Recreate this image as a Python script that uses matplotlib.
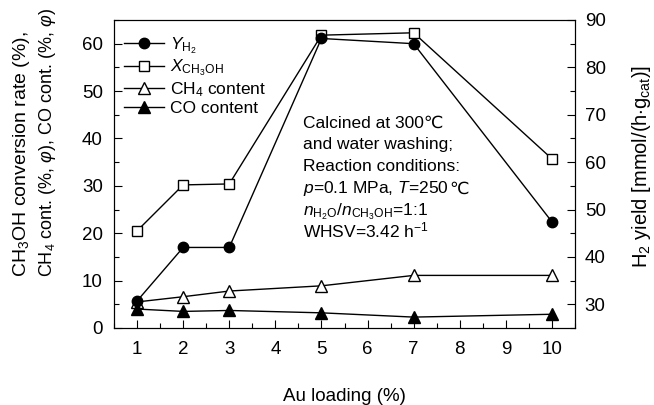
import matplotlib
matplotlib.use("Agg")
import matplotlib.pyplot as plt
from matplotlib.ticker import MultipleLocator

plt.rcParams['font.family'] = ['Liberation Sans', 'DejaVu Sans']
plt.rcParams['mathtext.fontset'] = 'custom'
plt.rcParams['mathtext.rm'] = 'Liberation Sans'
plt.rcParams['mathtext.it'] = 'Liberation Sans:italic'
plt.rcParams['mathtext.bf'] = 'Liberation Sans:bold'

au = [1, 2, 3, 5, 7, 10]
h2_yield = [30.7, 42.0, 42.0, 86.1, 85.0, 47.4]      # right axis
x_ch3oh = [20.5, 30.2, 30.4, 61.8, 62.3, 35.7]
ch4 = [5.5, 6.6, 7.8, 8.9, 11.1, 11.1]
co = [4.0, 3.5, 3.7, 3.2, 2.3, 2.9]

# (text, trailing degree-Celsius sign drawn separately because mathtext lacks it)
cond_lines = [('Calcined at 300\u2103', ''),
              ('and water washing;', ''),
              ('Reaction conditions:', ''),
              ('$p$=0.1 MPa, $T$=250', '\u2103'),
              ('$n_{\\mathrm{H_2O}}$/$n_{\\mathrm{CH_3OH}}$=1:1', ''),
              ('WHSV=3.42 h$^{-1}$', '')]
ylab_lines = ['CH$_3$OH conversion rate (%),',
              'CH$_4$ cont. (%, $\\varphi$), CO cont. (%, $\\varphi$)']

fig = plt.figure(figsize=(6.54, 4.05), dpi=100)
ax = fig.add_axes([114/654, 77/405, 461/654, 308/405])
ax2 = ax.twinx()

lkw = dict(color='black', lw=1.0, mew=1.0)
l1, = ax2.plot(au, h2_yield, marker='o', ms=7.5, mfc='black', mec='black', **lkw)
l2, = ax.plot(au, x_ch3oh, marker='s', ms=7, mfc='white', mec='black', **lkw)
l3, = ax.plot(au, ch4, marker='^', ms=8, mfc='white', mec='black', **lkw)
l4, = ax.plot(au, co, marker='^', ms=8, mfc='black', mec='black', **lkw)
ax2.set_zorder(ax.get_zorder() + 1)

ax.set_xlim(0.5, 10.5)
ax.set_ylim(0, 65)
ax2.set_ylim(25, 90)
ax.set_xticks(range(1, 11))
ax.xaxis.set_minor_locator(MultipleLocator(0.5))
ax.set_yticks(range(0, 61, 10))
ax.yaxis.set_minor_locator(MultipleLocator(5))
ax2.set_yticks(range(30, 91, 10))
ax2.yaxis.set_minor_locator(MultipleLocator(5))

for a in (ax, ax2):
    a.tick_params(which='both', direction='in', labelsize=13.5, width=0.8)
    a.tick_params(which='major', length=6)
    a.tick_params(which='minor', length=3.5)
ax.tick_params(axis='x', which='both', top=False)
ax.tick_params(axis='x', pad=9)
ax.tick_params(axis='y', pad=8)
ax2.tick_params(axis='y', pad=7)

ax.set_xlabel('Au loading (%)', fontsize=13.5, labelpad=22)
# two-line left axis title, both lines start at the same height
for xf, s, fs in [(21/654, ylab_lines[0], 14), (47/654, ylab_lines[1], 13)]:
    fig.text(xf, 128/405, s, rotation=90, rotation_mode='anchor',
             ha='left', va='center', fontsize=fs)
ax2.set_ylabel('H$_2$ yield [mmol/(h$\\cdot$g$_{\\mathrm{cat}}$)]', fontsize=14.5)
ax2.yaxis.set_label_coords(1.12, 0.526)

ax.legend([l1, l2, l3, l4],
          ['$Y_{\\mathrm{H_2}}$', '$X_{\\mathrm{CH_3OH}}$', 'CH$_4$ content', 'CO content'],
          loc='upper left', frameon=False, fontsize=12.5, handlelength=2.3,
          handletextpad=0.3, labelspacing=0.12, borderaxespad=0.2,
          bbox_to_anchor=(0.0, 0.985))

for i, (line, tail) in enumerate(cond_lines):
    t = ax.text(0.41, 0.651 - i * 0.0714, line, transform=ax.transAxes,
                fontsize=12.5, va='baseline', ha='left')
    if tail:
        ax.annotate(tail, xy=(1, 0), xycoords=t, xytext=(0.5, 1.5),
                    textcoords='offset points', fontsize=12.5, va='bottom', ha='left')

fig.savefig('out.png', dpi=100)
